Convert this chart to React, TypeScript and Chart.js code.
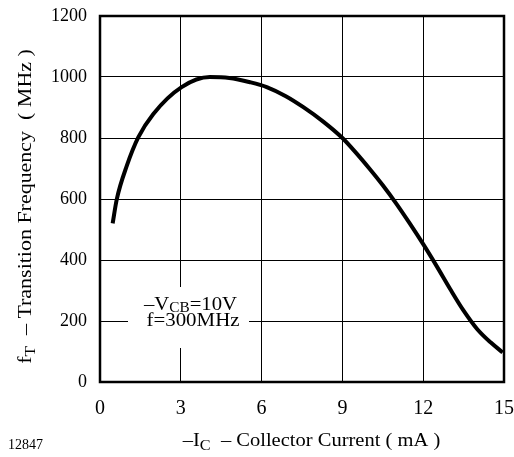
import React, { useEffect, useRef } from "react";
import { Chart, registerables } from "chart.js";

Chart.register(...registerables);

const currentMA: number[] = [0.47, 0.62, 1.0, 1.42, 1.98, 3.03, 4.08, 4.8, 5.57, 6.19, 6.9, 7.55, 8.3, 9.0, 9.5, 10.0, 10.5, 11.0, 11.5, 12.0, 12.5, 13.0, 13.5, 14.0, 14.5, 14.95];
const freqMHz: number[] = [520, 598, 710, 802, 879, 967, 1000, 997, 983, 967, 937, 901, 853, 800, 752, 700, 645, 585, 520, 452, 380, 305, 234, 174, 130, 97];
const xTicks: number[] = [0, 3, 6, 9, 12, 15];
const yTicks: number[] = [0, 200, 400, 600, 800, 1000, 1200];

const SERIF = "'Liberation Serif', 'Times New Roman', serif";

type Part = { t: string; sub?: boolean };

function partsWidth(ctx: CanvasRenderingContext2D, parts: Part[], size: number, subSize: number) {
  let w = 0;
  for (const p of parts) {
    ctx.font = `${p.sub ? subSize : size}px ${SERIF}`;
    w += ctx.measureText(p.t).width;
  }
  return w;
}

function drawParts(
  ctx: CanvasRenderingContext2D,
  parts: Part[],
  cx: number,
  baseline: number,
  size: number,
  subSize: number,
  subDrop: number,
  sx: number = 1
) {
  ctx.save();
  ctx.translate(cx, baseline);
  ctx.scale(sx, 1);
  const w = partsWidth(ctx, parts, size, subSize);
  let x = -w / 2;
  ctx.textAlign = "left";
  ctx.textBaseline = "alphabetic";
  ctx.fillStyle = "#000";
  for (const p of parts) {
    ctx.font = `${p.sub ? subSize : size}px ${SERIF}`;
    ctx.fillText(p.t, x, p.sub ? subDrop : 0);
    x += ctx.measureText(p.t).width;
  }
  ctx.restore();
}

const decorPlugin = {
  id: "decor",
  afterDatasetsDraw(chart: any) {
    const ctx: CanvasRenderingContext2D = chart.ctx;
    const a = chart.chartArea;
    ctx.save();
    // annotation box
    ctx.fillStyle = "#fff";
    ctx.fillRect(128, 287, 121, 61);
    drawParts(ctx, [{ t: "\u2013V" }, { t: "CB", sub: true }, { t: "=10V" }], 190.5, 310, 19, 14, 2, 1.09);
    drawParts(ctx, [{ t: "f=300MHz" }], 193, 326, 19, 14, 0, 1.1);
    // border
    ctx.strokeStyle = "#000";
    ctx.lineWidth = 2.5;
    ctx.strokeRect(a.left, a.top, a.right - a.left, a.bottom - a.top);
    // x title
    drawParts(ctx, [{ t: "\u2013I" }, { t: "C", sub: true }, { t: "  \u2013 Collector Current ( mA )" }], 311.5, 446, 19, 15, 4, 1.08);
    // y title
    ctx.save();
    ctx.translate(31, 206.5);
    ctx.rotate(-Math.PI / 2);
    drawParts(ctx, [{ t: "f" }, { t: "T", sub: true }, { t: "  \u2013 Transition Frequency  ( MHz )" }], 0, 0, 18, 14, 4, 1.22);
    ctx.restore();
    // figure id
    ctx.font = `14px ${SERIF}`;
    ctx.textAlign = "left";
    ctx.textBaseline = "alphabetic";
    ctx.fillStyle = "#000";
    ctx.fillText("12847", 8, 449);
    ctx.restore();
  },
};

function noPad(s: any) {
  s.paddingLeft = 0;
  s.paddingRight = 0;
  s.paddingTop = 0;
  s.paddingBottom = 0;
}

export default function App() {
  const ref = useRef<HTMLCanvasElement>(null);
  useEffect(() => {
    if (!ref.current) return;
    const chart = new Chart(ref.current, {
      type: "line",
      data: {
        datasets: [
          {
            data: currentMA.map((x, i) => ({ x, y: freqMHz[i] })),
            borderColor: "#000",
            borderWidth: 4,
            pointRadius: 0,
            tension: 0.4,
            cubicInterpolationMode: "monotone",
            fill: false,
          },
        ],
      },
      options: {
        animation: false,
        responsive: false,
        maintainAspectRatio: false,
        devicePixelRatio: 1,
        layout: { padding: { top: 16, right: 10, left: 0, bottom: 0 } },
        plugins: { legend: { display: false }, tooltip: { enabled: false } },
        scales: {
          x: {
            type: "linear",
            min: 0,
            max: 15,
            afterBuildTicks: (s: any) => {
              s.ticks = xTicks.map((v) => ({ value: v }));
            },
            afterFit: (s: any) => {
              s.height = 75;
              noPad(s);
            },
            ticks: { color: "#000", font: { family: SERIF, size: 20 }, padding: 15, callback: (v: any) => String(v) },
            grid: { color: "#000", lineWidth: 1, drawTicks: false },
            border: { display: false },
          },
          y: {
            type: "linear",
            min: 0,
            max: 1200,
            afterBuildTicks: (s: any) => {
              s.ticks = yTicks.map((v) => ({ value: v }));
            },
            afterFit: (s: any) => {
              s.width = 100;
              noPad(s);
            },
            ticks: { color: "#000", font: { family: SERIF, size: 18 }, padding: 13, callback: (v: any) => String(v) },
            grid: { color: "#000", lineWidth: 1, drawTicks: false },
            border: { display: false },
          },
        },
      },
      plugins: [decorPlugin],
    } as any);
    return () => chart.destroy();
  }, []);
  return (
    <div style={{ position: "absolute", left: 0, top: 0, width: 514, height: 457, background: "#fff" }}>
      <canvas ref={ref} width={514} height={457} style={{ width: 514, height: 457, display: "block" }} />
    </div>
  );
}
